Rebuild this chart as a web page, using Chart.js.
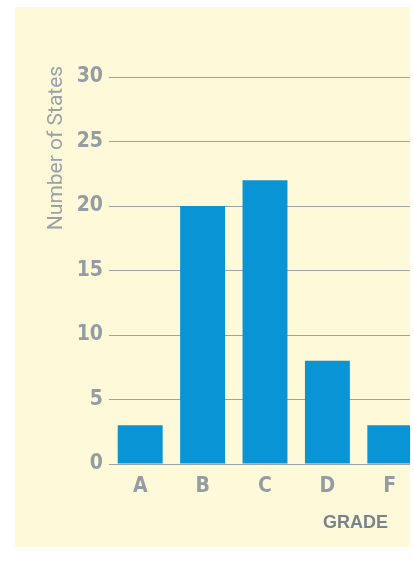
<!DOCTYPE html>
<html>
<head>
<meta charset="utf-8">
<script src="https://cdn.jsdelivr.net/npm/chart.js@4/dist/chart.umd.min.js"></script>
<style>
  html, body { margin: 0; padding: 0; background: #fff; }
  #panel {
    position: absolute; left: 15px; top: 7px;
    width: 395px; height: 540px;
    background: #fef9d8; overflow: hidden;
  }
  #wrap { position: absolute; left: 0; top: 0; width: 406px; height: 540px; }
</style>
</head>
<body>
<div id="panel"><div id="wrap"><canvas id="gradeChart"></canvas></div></div>
<script>
const grades = ["A", "B", "C", "D", "F"];
const stateCounts = [3, 20, 22, 8, 3];
const yTicks = [0, 5, 10, 15, 20, 25, 30];

const yTitle = "Number of States";
const xTitle = "GRADE";

const tickFont = { family: "'Liberation Sans Narrow', 'DejaVu Sans Condensed', sans-serif", size: 21, weight: "bold" };

// axis titles sit off-centre in the original, so draw them by hand
const titlesPlugin = {
  id: "titles",
  afterDraw(chart) {
    const ctx = chart.ctx;
    ctx.save();
    ctx.fillStyle = "#9aa2a8";
    ctx.font = "21px Roboto, sans-serif";
    ctx.textAlign = "center";
    ctx.textBaseline = "alphabetic";
    ctx.translate(47, 141);
    ctx.rotate(-Math.PI / 2);
    ctx.fillText(yTitle, 0, 0);
    ctx.restore();

    ctx.save();
    ctx.fillStyle = "#77848d";
    ctx.font = "bold 18px 'Liberation Sans', Arial, sans-serif";
    ctx.textAlign = "right";
    ctx.textBaseline = "alphabetic";
    ctx.fillText(xTitle, 373, 521);
    ctx.restore();
  }
};

new Chart(document.getElementById("gradeChart"), {
  type: "bar",
  data: {
    labels: grades,
    datasets: [{
      data: stateCounts,
      backgroundColor: "#0894d5",
      borderWidth: 0,
      barPercentage: 0.72,
      categoryPercentage: 1
    }]
  },
  options: {
    responsive: true,
    maintainAspectRatio: false,
    animation: false,
    layout: { padding: { top: 70, right: 0, bottom: 0, left: 0 } },
    plugins: { legend: { display: false }, tooltip: { enabled: false } },
    scales: {
      x: {
        grid: { display: false },
        border: { display: false },
        ticks: { color: "#959da4", font: tickFont, padding: 2 },
        afterFit(scale) { scale.height = 83; }
      },
      y: {
        min: 0,
        max: 30,
        afterBuildTicks(scale) { scale.ticks = yTicks.map(v => ({ value: v })); },
        grid: { color: "#9ca3a7", lineWidth: 1, drawTicks: false },
        border: { display: false },
        ticks: { color: "#959da4", font: tickFont, padding: 6 },
        afterFit(scale) { scale.width = 94; }
      }
    }
  },
  plugins: [titlesPlugin]
});
</script>
</body>
</html>
